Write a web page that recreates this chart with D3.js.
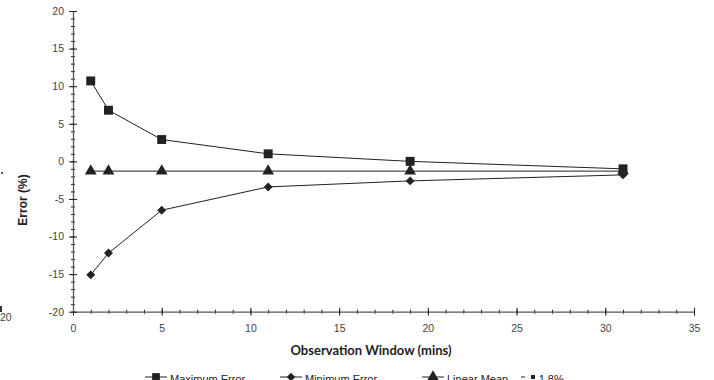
<!DOCTYPE html>
<html><head><meta charset="utf-8">
<script src="https://cdn.jsdelivr.net/npm/d3@7"></script>
<style>body{margin:0;background:#fff}svg{display:block}</style>
</head><body><svg id="c" width="714" height="380"></svg>
<script>
const windows = [1, 2, 5, 11, 19, 31];
const maxError = [10.7, 6.8, 2.9, 1.0, 0.0, -1.0];
const minError = [-15.1, -12.2, -6.5, -3.4, -2.6, -1.8];
const linearMean = [-1.3, -1.3, -1.3, -1.3, -1.3, -1.3];
const xMajorTicks = [0, 5, 10, 15, 20, 25, 30, 35];
const yMajorTicks = [-20, -15, -10, -5, 0, 5, 10, 15, 20];
const legendLabels = ["Maximum Error", "Minimum Error", "Linear Mean", "-1.8%"];

const svg = d3.select("#c");
const x = d3.scaleLinear().domain([0, 35]).range([73, 694]);
const y = d3.scaleLinear().domain([-20, 20]).range([311.7, 11]);
const ink = "#222";

// minor ticks
const gxm = svg.append("g").attr("transform", `translate(0,${y(-20)})`)
  .call(d3.axisBottom(x).tickValues(d3.range(0, 36, 1)).tickSize(2).tickSizeOuter(0).tickFormat(""));
gxm.selectAll(".tick line").attr("y1", -2).attr("stroke", ink);
gxm.select(".domain").remove();
const gym = svg.append("g").attr("transform", `translate(${x(0)},0)`)
  .call(d3.axisLeft(y).tickValues(d3.range(-20, 21, 1)).tickSize(2).tickSizeOuter(0).tickFormat(""));
gym.selectAll(".tick line").attr("x1", 2).attr("stroke", ink);
gym.select(".domain").remove();

// major axes
const gx = svg.append("g").attr("transform", `translate(0,${y(-20)})`)
  .call(d3.axisBottom(x).tickValues(xMajorTicks).tickSize(4).tickSizeOuter(0).tickPadding(9).tickFormat(d3.format("d")));
gx.selectAll(".tick line").attr("y1", -4).attr("stroke", ink);
gx.select(".domain").attr("stroke", "#555").attr("stroke-width", 1.3);
gx.selectAll("text").attr("font-family", "Liberation Sans, Arial, sans-serif").attr("font-size", 10.5).attr("fill", "#444");

const gy = svg.append("g").attr("transform", `translate(${x(0)},0)`)
  .call(d3.axisLeft(y).tickValues(yMajorTicks).tickSize(4).tickSizeOuter(0).tickPadding(5).tickFormat(d => d3.format("d")(d).replace("−","-")));
gy.selectAll(".tick line").attr("x1", 4).attr("stroke", ink);
gy.select(".domain").attr("stroke", "#555").attr("stroke-width", 1.3);
gy.selectAll("text").attr("font-family", "Liberation Sans, Arial, sans-serif").attr("font-size", 10.5).attr("fill", "#444");

// series
const line = d3.line().x((d, i) => x(windows[i])).y(d => y(d));
const series = [
  {vals: maxError, sym: d3.symbolSquare, size: 80, rot: 0},
  {vals: minError, sym: d3.symbolSquare, size: 40, rot: 45},
  {vals: linearMean, sym: d3.symbolTriangle, size: 60, rot: 0}
];
series.forEach(s => {
  svg.append("path").attr("d", line(s.vals)).attr("fill", "none").attr("stroke", ink).attr("stroke-width", 1);
  svg.selectAll(null).data(s.vals).enter().append("path")
    .attr("d", d3.symbol().type(s.sym).size(s.size))
    .attr("transform", (d, i) => `translate(${x(windows[i])},${y(d)}) rotate(${s.rot})`)
    .attr("fill", ink);
});

// axis titles
svg.append("text").attr("x", 371).attr("y", 355).attr("text-anchor", "middle")
  .attr("font-family", "Lato, 'Open Sans', sans-serif").attr("font-weight", "bold").attr("font-size", 13)
  .attr("fill", "#222").text("Observation Window (mins)");
svg.append("text").attr("transform", "translate(27,200) rotate(-90)").attr("text-anchor", "middle")
  .attr("font-family", "Liberation Sans, Arial, sans-serif").attr("font-weight", "bold").attr("font-size", 12)
  .attr("fill", "#222").text("Error (%)");

// legend (clipped at bottom, as in the reference)
const legX = [145, 280, 422, 521];
const legSyms = [[d3.symbolSquare, 60, 0], [d3.symbolSquare, 36, 45], [d3.symbolTriangle, 60, 0], null];
const ly = 377;
legendLabels.forEach((lab, i) => {
  const g = svg.append("g");
  if (legSyms[i]) {
    g.append("line").attr("x1", legX[i]).attr("x2", legX[i] + 22).attr("y1", ly).attr("y2", ly).attr("stroke", ink);
    g.append("path").attr("d", d3.symbol().type(legSyms[i][0]).size(legSyms[i][1]))
      .attr("transform", `translate(${legX[i] + 11},${ly}) rotate(${legSyms[i][2]})`).attr("fill", ink);
    g.append("text").attr("x", legX[i] + 25).attr("y", ly + 6).attr("font-family", "Liberation Sans, Arial, sans-serif")
      .attr("font-size", 11).attr("fill", "#222").text(lab);
  } else {
    g.append("line").attr("x1", legX[i]).attr("x2", legX[i] + 4).attr("y1", ly).attr("y2", ly).attr("stroke", ink);
    g.append("rect").attr("x", legX[i] + 10).attr("y", ly - 2).attr("width", 4).attr("height", 4).attr("fill", ink);
    g.append("text").attr("x", legX[i] + 14).attr("y", ly + 6).attr("font-family", "Liberation Sans, Arial, sans-serif")
      .attr("font-size", 11).attr("fill", "#222").text(lab);
  }
});

// stray marks from neighbouring figure at left edge
svg.append("text").attr("x", 0).attr("y", 321).attr("font-family", "Liberation Sans, Arial, sans-serif")
  .attr("font-size", 10.5).attr("fill", "#444").text("20");
svg.append("rect").attr("x", 0).attr("y", 306).attr("width", 2).attr("height", 6).attr("fill", "#333");
svg.append("rect").attr("x", 1).attr("y", 172).attr("width", 2).attr("height", 2).attr("fill", "#555");
</script></body></html>
